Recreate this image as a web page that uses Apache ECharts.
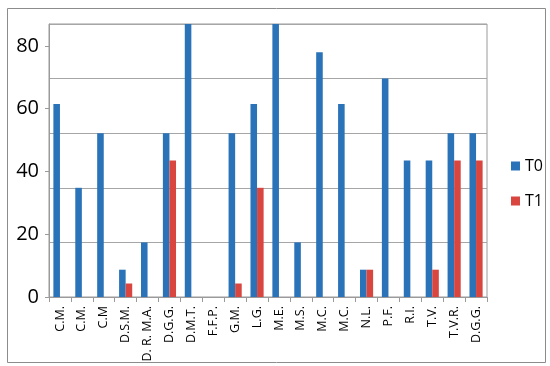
<!DOCTYPE html>
<html>
<head>
<meta charset="utf-8">
<script src="https://cdn.jsdelivr.net/npm/echarts@6/dist/echarts.min.js"></script>
<style>html,body{margin:0;padding:0;background:#fff}#c{width:550px;height:366px}</style>
</head>
<body>
<div id="c"></div>
<script>
var categories = ['C.M.','C.M.','C.M','D.S.M.','D. R. M.A.','D.G.G.','D.M.T.','F.F.P.','G.M.','L.G.','M.E.','M.S.','M.C.','M.C.','N.L.','P.F.','R.I.','T.V.','T.V.R.','D.G.G.'];
var t0 = [61.5, 34.8, 52.2, 8.7, 17.4, 52.2, 87, 0, 52.2, 61.5, 87, 17.4, 78, 61.5, 8.7, 69.6, 43.5, 43.5, 52.2, 52.2];
var t1 = [0, 0, 0, 4.3, 0, 43.5, 0, 0, 4.3, 34.8, 0, 0, 0, 0, 8.7, 0, 0, 8.7, 43.5, 43.5];
var yTickLabels = [0, 20, 40, 60, 80];
var yMax = 87;
var gridStep = 17.4;

var chart = echarts.init(document.getElementById('c'), null, {renderer: 'canvas'});
var font = 'Open Sans, Noto Sans, sans-serif';
chart.setOption({
  animation: false,
  backgroundColor: '#fff',
  textStyle: {fontFamily: font},
  graphic: [{
    type: 'rect', left: 5, top: 6, z: -1,
    shape: {width: 538, height: 354},
    style: {fill: 'none', stroke: '#8c8c8c', lineWidth: 1}
  }],
  grid: {left: 49, right: 63, top: 24, bottom: 69, show: true, borderColor: '#9a9a9a', borderWidth: 1},
  legend: {
    orient: 'vertical', left: 511, top: 158, padding: 0,
    itemWidth: 9, itemHeight: 9, itemGap: 19, icon: 'rect',
    textStyle: {fontSize: 16, color: '#000', fontFamily: font, lineHeight: 16},
    data: ['T0', 'T1']
  },
  xAxis: {
    type: 'category', data: categories,
    axisLine: {lineStyle: {color: '#9a9a9a'}},
    axisTick: {show: true, length: 5, lineStyle: {color: '#9a9a9a'}},
    axisLabel: {interval: 0, rotate: 90, fontSize: 12.5, color: '#000', margin: 9, fontFamily: font}
  },
  yAxis: [{
    type: 'value', min: 0, max: yMax,
    axisLine: {show: true, lineStyle: {color: '#9a9a9a'}},
    axisTick: {show: true, length: 4, customValues: yTickLabels, lineStyle: {color: '#9a9a9a'}},
    axisLabel: {fontSize: 20, color: '#000', margin: 10, customValues: yTickLabels, fontFamily: font},
    splitLine: {show: false}
  }, {
    type: 'value', min: 0, max: yMax, interval: gridStep, position: 'left',
    axisLine: {show: false}, axisTick: {show: false}, axisLabel: {show: false},
    splitLine: {show: true, lineStyle: {color: '#a6a6a6', width: 1}}
  }],
  series: [{
    name: 'T0', type: 'bar', data: t0, yAxisIndex: 0,
    barGap: '0%', barCategoryGap: '40%',
    itemStyle: {color: '#2a73b8'}
  }, {
    name: 'T1', type: 'bar', data: t1, yAxisIndex: 0,
    barGap: '0%', barCategoryGap: '40%',
    itemStyle: {color: '#d9463f'}
  }]
});
</script>
</body>
</html>
